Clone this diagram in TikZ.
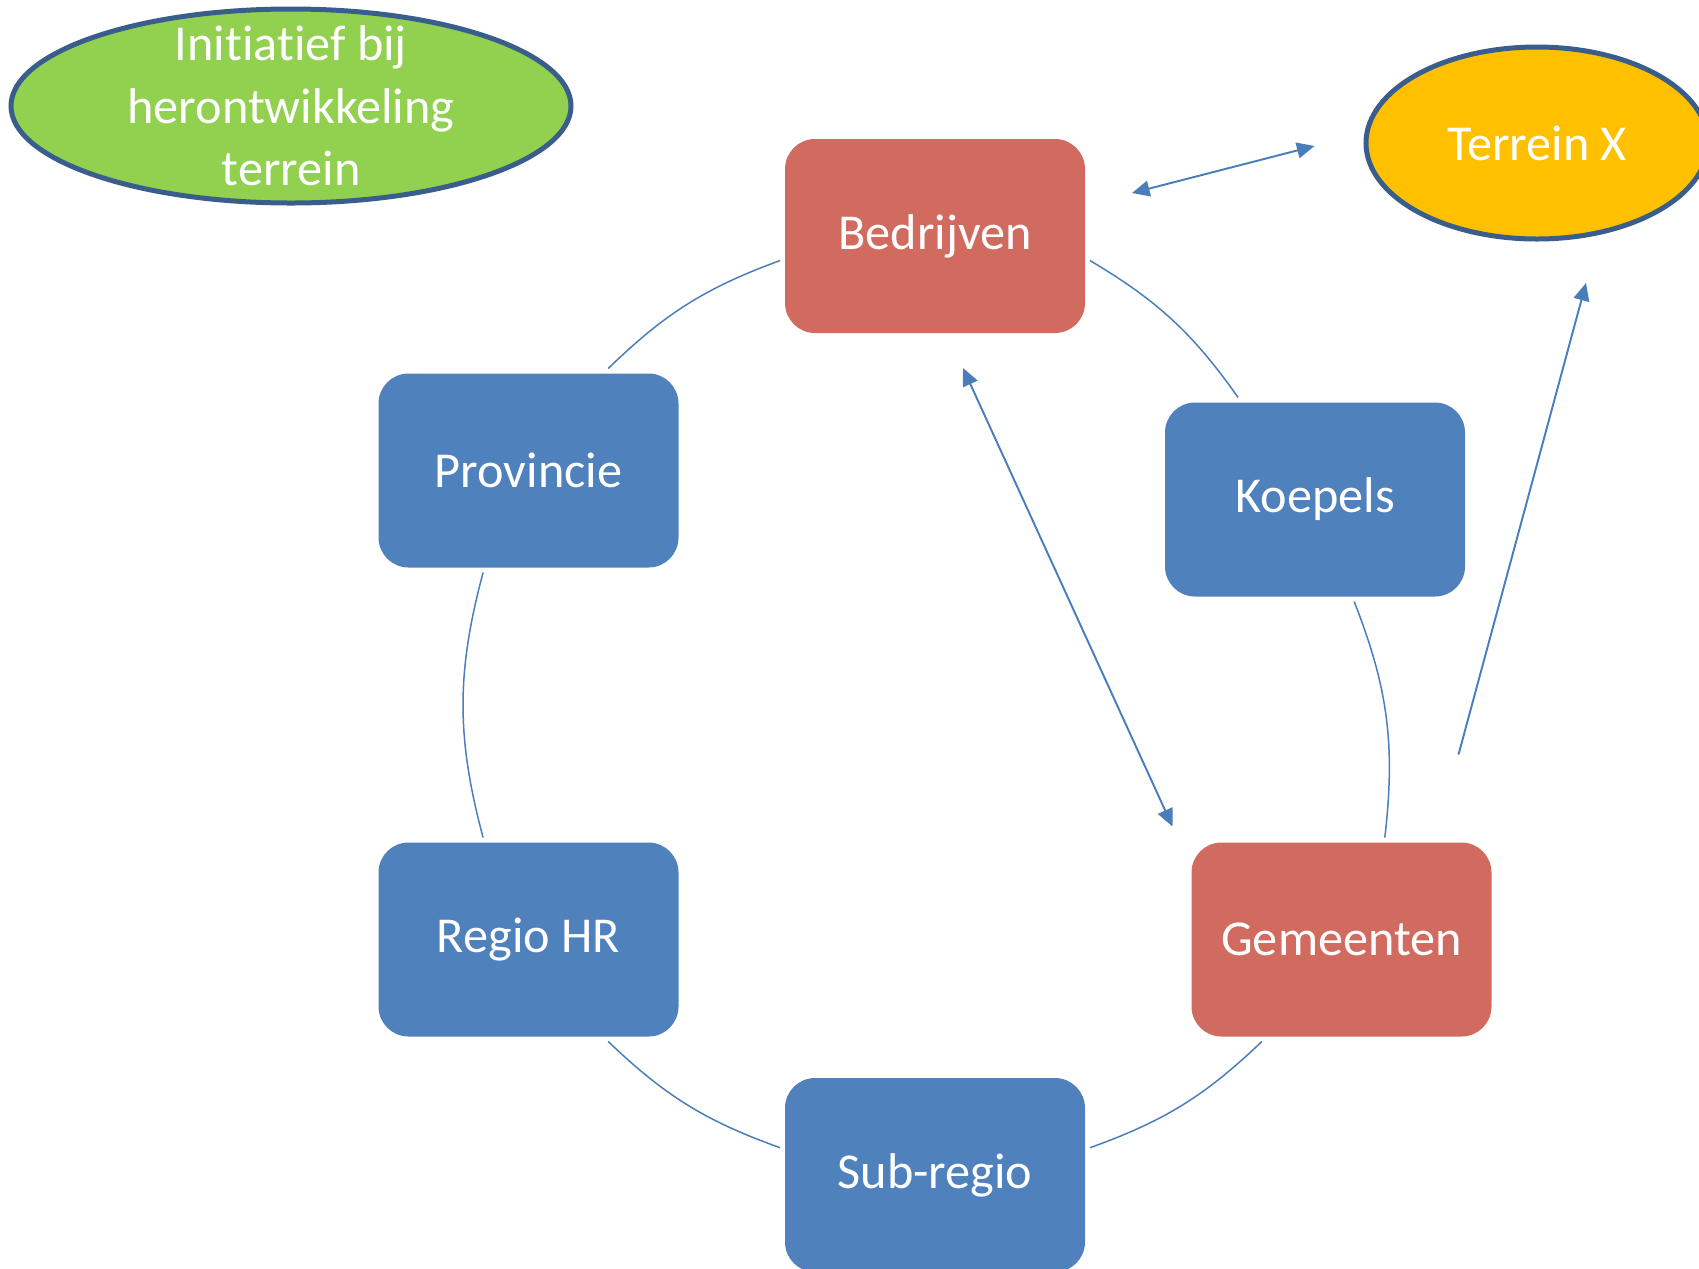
\documentclass[tikz,border=0pt]{standalone}
\usepackage{fontspec}
\setmainfont[Ligatures=NoCommon]{Carlito}
\usetikzlibrary{shapes.geometric,arrows.meta}
\definecolor{boxblue}{HTML}{4F81BD}
\definecolor{boxred}{HTML}{D16B60}
\definecolor{linkblue}{HTML}{4A7EBB}
\definecolor{rimblue}{HTML}{3A5E8C}
\definecolor{leafgreen}{HTML}{92D050}
\definecolor{amber}{HTML}{FFC000}
\begin{document}
\begin{tikzpicture}[
  txt/.style={text=white, font=\fontsize{28.6}{35.5}\selectfont},
  actor/.style={txt, rectangle, rounded corners=.6cm, minimum width=6cm, minimum height=3.88cm, outer sep=.1cm},
  oval/.style={txt, ellipse, draw=rimblue, line width=.1cm, inner sep=0pt},
  link/.style={linkblue, line width=.85pt},
  flow/.style={linkblue, line width=1.1pt, -{Triangle[length=10pt,width=9pt]}},
  both/.style={flow, {Triangle[length=10pt,width=9pt]}-{Triangle[length=10pt,width=9pt]}}]
\useasboundingbox (0,0) rectangle (33.98,-25.36);

% ovals
\node [oval, fill=leafgreen, minimum width=11.2cm, minimum height=3.88cm,
  label={[txt, align=center]center:Initiatief bij\\herontwikkeling\\terrein}] (init) at (5.82,-2.12) {};
\node [oval, fill=amber, minimum width=6.84cm, minimum height=3.84cm] (terr) at (30.74,-2.86) {Terrein X};

% cycle
\node [actor, fill=boxred]  (bed)   at (18.70,-4.72)  {Bedrijven};
\node [actor, fill=boxblue] (prov)  at (10.57,-9.41)  {Provincie};
\node [actor, fill=boxblue] (koep)  at (26.30,-9.99)  {Koepels};
\node [actor, fill=boxblue] (regio) at (10.57,-18.79) {Regio HR};
\node [actor, fill=boxred]  (gem)   at (26.83,-18.79) {Gemeenten};
\node [actor, fill=boxblue] (sub)   at (18.70,-23.50) {Sub-regio};

\draw [link] (bed.189) to[bend right=12] (prov.52);
\draw [link] (bed.-9) to[bend left=12] (koep.127);
\draw [link] (koep.-69) to[bend left=14] (gem.67);
\draw [link] (gem.232) to[bend left=12] (sub.10);
\draw [link] (sub.170) to[bend left=12] (regio.-52);
\draw [link] (regio.114) to[bend left=15] (prov.-114);

% arrows
\coordinate (bt1) at ([shift={(.84,.86)}]bed.east);
\coordinate (bt2) at ([shift={(-.98,-.06)}]terr.west);
\coordinate (bg1) at ([shift={(.56,-.60)}]bed.south);
\coordinate (bg2) at ([shift={(-.28,.22)}]gem.north west);
\coordinate (gt1) at ([shift={(-.76,1.66)}]gem.north east);
\coordinate (gt2) at ([shift={(.98,-.83)}]terr.south);
\draw [both] (bt1) -- (bt2);
\draw [both] (bg1) -- (bg2);
\draw [flow] (gt1) -- (gt2);
\end{tikzpicture}
\end{document}
